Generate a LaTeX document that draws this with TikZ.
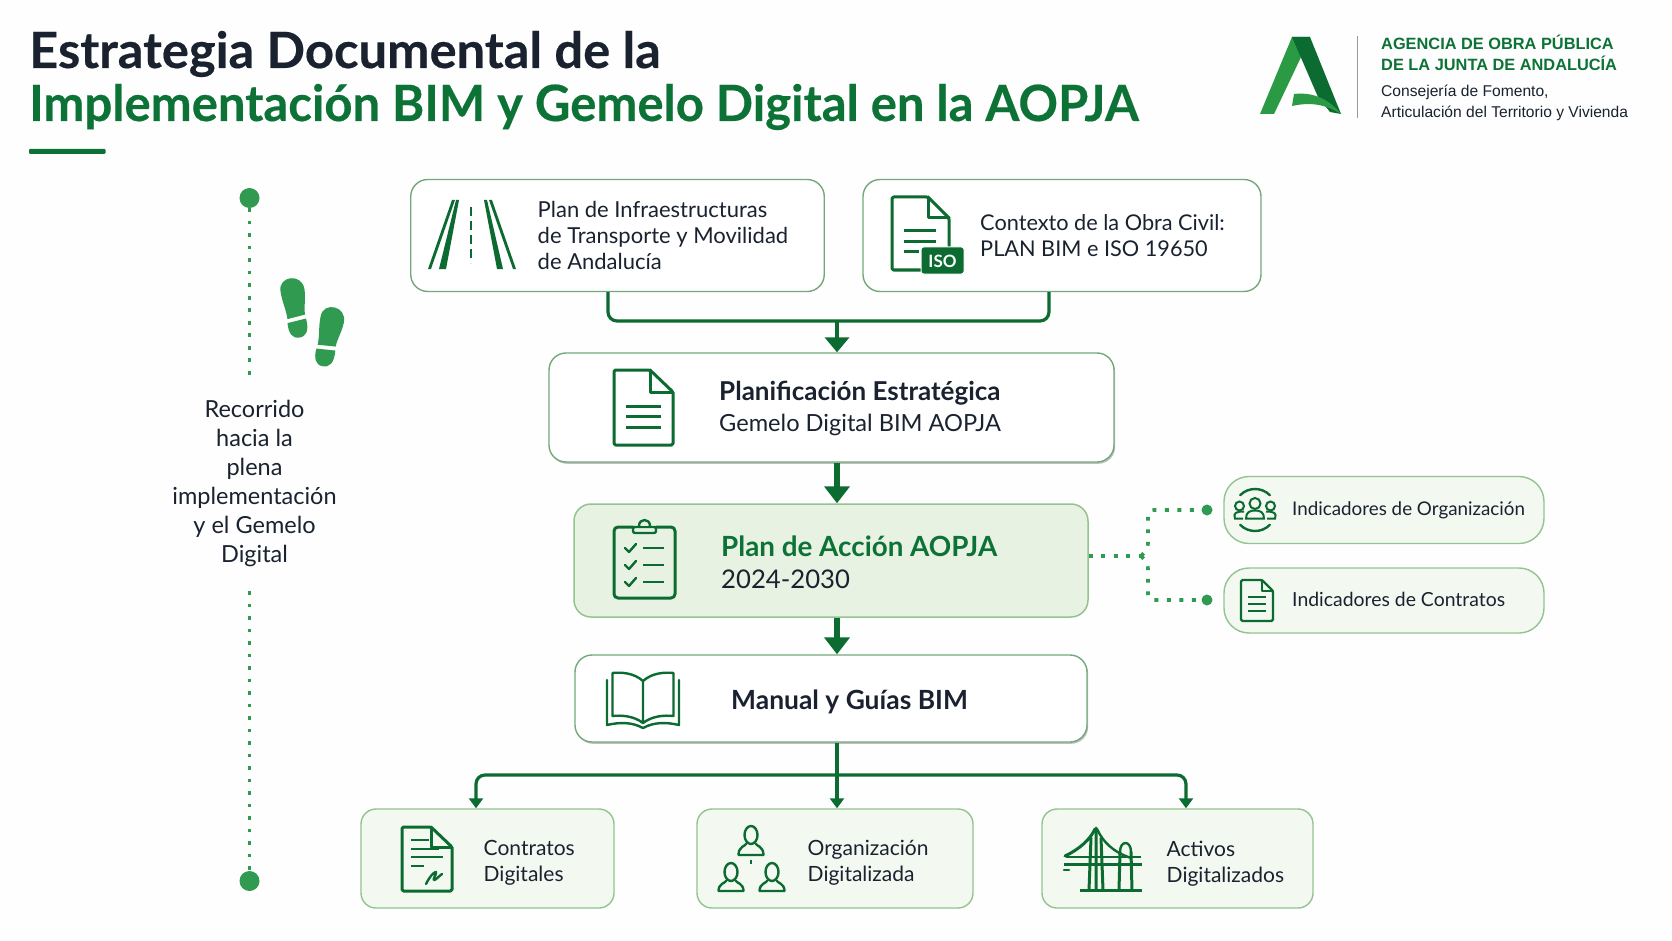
\documentclass[tikz,border=0pt]{standalone}
\usepackage{fontspec}
\usepackage{graphicx}
\setmainfont{Lato}
\newfontfamily\arialf{Liberation Sans}
\newfontfamily\titlef[BoldFeatures={FakeBold=0.35}]{Lato}
\usetikzlibrary{arrows.meta,shadows,calc}
\definecolor{bgc}{HTML}{FDFEFD}
\definecolor{dkg}{HTML}{0B6B30}
\definecolor{tgreen}{HTML}{0C7236}
\definecolor{ink}{HTML}{1A2230}
\definecolor{edgeg}{HTML}{74A87C}
\definecolor{edgel}{HTML}{93C48F}
\definecolor{pale}{HTML}{E8F2E2}
\definecolor{paler}{HTML}{F3F8F1}
\definecolor{dotg}{HTML}{2F9A50}
\definecolor{logol}{HTML}{2A9A45}
\newcommand{\fsz}[2]{\fontsize{#1}{#2}\selectfont}
\tikzset{
 whitebox/.style={draw=edgeg,line width=1.4pt,fill=white,rounded corners=17pt,inner sep=0pt,
   drop shadow={shadow xshift=1.2pt,shadow yshift=-1.8pt,fill=black!55,opacity=.45}},
 topbox/.style={draw=edgeg,line width=1.4pt,fill=white!60!bgc,rounded corners=17pt,inner sep=0pt},
 planbox/.style={draw=edgel,line width=1.5pt,fill=pale,rounded corners=17pt,inner sep=0pt},
 softbox/.style={draw=edgel,line width=1.4pt,fill=paler,rounded corners=15pt,inner sep=0pt},
 indbox/.style={draw=edgel,line width=1.4pt,fill=paler,rounded corners=25pt,inner sep=0pt},
 lab/.style={anchor=west,inner sep=0pt,text=ink,align=left},
 flow/.style={draw=dkg,line width=6pt,-{Triangle[width=25pt,length=17pt]}},
 flowmid/.style={draw=dkg,line width=4pt,-{Triangle[width=24pt,length=15pt]}},
 flowthin/.style={draw=dkg,line width=3.2pt,rounded corners=9pt},
 flowtip/.style={draw=dkg,line width=3.2pt,rounded corners=9pt,-{Triangle[width=14pt,length=10pt]}},
 dotline/.style={draw=dotg,line width=3.6pt,dash pattern=on 3.8pt off 8.7pt},
 bigdot/.style={circle,fill=dotg,draw=none,minimum size=20pt,inner sep=0pt},
 smalldot/.style={circle,fill=dotg,draw=none,minimum size=11pt,inner sep=0pt},
 icon/.style={draw=dkg,line width=3pt,line join=round,line cap=round},
 iconthin/.style={draw=dkg,line width=2.4pt,line join=round,line cap=round},
}
\newcommand{\docicon}[7][icon]{% style, left, top, right, bottom, foldx, foldy
 \draw[#1,rounded corners=1.5pt] (#2,#3) -- (#6,#3) -- (#4,#7) -- (#4,#5) -- (#2,#5) -- cycle;
 \draw[#1] (#6,#3) -- (#6,#7) -- (#4,#7);
}
\newcommand{\footprint}[3]{%
 \begin{scope}[shift={(#1,#2)},rotate=#3]
  \fill[dotg] (-12,-12) .. controls (-12,-27) and (12,-27) .. (12,-10)
     .. controls (12,0) and (9,6) .. (9,15) -- (-9,17) .. controls (-9,6) and (-12,0) .. (-12,-12) -- cycle;
  \fill[dotg] (-9.5,21) -- (9.5,19) .. controls (11,32) and (7,37) .. (0,37) .. controls (-7,37) and (-10,31) .. (-9.5,21) -- cycle;
 \end{scope}}
\newcommand{\person}[4]{% x, head y, body bottom y, half width
 \draw[iconthin] (#1,#2) ellipse ({#4*.52} and {#4*.72});
 \draw[iconthin] (#1-#4,#3) .. controls (#1-#4,#2+#4*.9) and (#1-#4*.4,#2+#4*.85) .. (#1-#4*.4,#2+#4*.72)
   (#1+#4,#3) .. controls (#1+#4,#2+#4*.9) and (#1+#4*.4,#2+#4*.85) .. (#1+#4*.4,#2+#4*.72)
   (#1-#4,#3) -- (#1+#4,#3);
}
\begin{document}
\begin{tikzpicture}[x=1pt,y=-1pt]
\useasboundingbox (0,0) rectangle (1672,941);
\fill[bgc] (0,0) rectangle (1672,941);

% title
\node[anchor=base west,inner sep=0pt,text=ink] (t1) at (29,68)
  {\titlef\fsz{50}{50}\bfseries\scalebox{1.014}[1]{Estrategia Documental de la}};
\node[anchor=base west,inner sep=0pt,text=tgreen] (t2) at (29,121)
  {\titlef\fsz{50}{50}\bfseries\scalebox{.98}[1]{Implementación BIM y Gemelo Digital en la AOPJA}};
\fill[tgreen,rounded corners=1pt] (29,149) rectangle (105.5,154);

% logo
\fill[logol] (1260,114) -- (1292,37) -- (1310,37) -- (1302,55) -- (1274,114) -- cycle;
\fill[dkg] (1292,37) -- (1310,37) -- (1341,114) -- (1330,112) -- (1318,97) -- cycle;
\fill[logol] (1294,94) .. controls (1312,92) and (1328,98) .. (1341,114)
  .. controls (1325,104) and (1310,102) .. (1292,106) -- cycle;
\draw[black!40,line width=1pt] (1357,36) -- (1357,118);
\node[anchor=base west,inner sep=0pt,text=tgreen] (l1) at (1381,50) {\arialf\fsz{16.35}{18}\bfseries AGENCIA DE OBRA PÚBLICA};
\node[anchor=base west,inner sep=0pt,text=tgreen] (l2) at (1381,71) {\arialf\fsz{16.35}{18}\bfseries DE LA JUNTA DE ANDALUCÍA};
\node[anchor=base west,inner sep=0pt,text=ink] (l3) at (1381,97) {\arialf\fsz{15.6}{18}Consejería de Fomento,};
\node[anchor=base west,inner sep=0pt,text=ink] (l4) at (1381,118) {\arialf\fsz{15.6}{18}Articulación del Territorio y Vivienda};

% left track
\node[bigdot] (dtop) at (249.5,198) {};
\node[bigdot] (dbot) at (249.5,881) {};
\coordinate (trA) at (249.5,378);
\coordinate (trB) at (249.5,591);
\draw[dotline] (dtop) -- (trA);
\draw[dotline] (trB) -- (dbot);
\footprint{294}{301}{8}
\footprint{330}{330}{-12}
\node[inner sep=0pt,text=ink,align=center,font=\fsz{23.5}{29}] (lefttxt) at (254.5,483.5)
  {Recorrido\\hacia la\\plena\\implementación\\y el Gemelo\\Digital};

% main boxes
\node[topbox,minimum width=413.5pt,minimum height=112pt] (b1) at (617.5,235.5) {};
\node[topbox,minimum width=398pt,minimum height=112pt] (b2) at (1062,235.5) {};
\node[whitebox,minimum width=565pt,minimum height=109pt] (b3) at (831.5,407.5) {};
\node[planbox,minimum width=514pt,minimum height=113pt] (b4) at (831,560.5) {};
\node[whitebox,minimum width=512pt,minimum height=87pt] (b5) at (831,698.5) {};
\node[indbox,minimum width=320pt,minimum height=67pt] (i1) at (1384,510) {};
\node[indbox,minimum width=320pt,minimum height=65pt] (i2) at (1384,600.5) {};
\node[softbox,minimum width=253pt,minimum height=99pt] (c1) at (487.5,858.5) {};
\node[softbox,minimum width=276pt,minimum height=99pt] (c2) at (835,858.5) {};
\node[softbox,minimum width=271pt,minimum height=99pt] (c3) at (1177.5,858.5) {};

% connectors
\coordinate (spine) at (837,321);
\coordinate (fromA) at (608,321);
\coordinate (fromB) at (1049,321);
\coordinate (busC) at (837,775);
\coordinate (busL) at (476,775);
\coordinate (busR) at (1186,775);
\draw[flowthin] (b1.south -| fromA) |- (spine) -| (b2.south -| fromB);
\draw[flowmid] (spine) -- (b3.north -| spine);
\draw[flow] (b3.south -| spine) -- (b4.north -| spine);
\draw[flow] (b4.south -| spine) -- (b5.north -| spine);
\draw[flowtip] (b5.south -| spine) -- (c2.north -| spine);
\draw[flowtip] (busC) -| (c1.north -| busL);
\draw[flowtip] (busC) -| (c3.north -| busR);

\node[smalldot] (n1) at (1207,510) {};
\node[smalldot] (n2) at (1207,600) {};
\coordinate (fk) at (1141,556);
\draw[dotline] (b4.east |- fk) -- (fk);
\draw[dotline,rounded corners=6pt] (fk) -- ++(7,-7) |- (n1);
\draw[dotline,rounded corners=6pt] (fk) -- ++(7,7) |- (n2);

% texts
\node[lab,font=\fsz{22}{26}] (tb1) at (537.5,235.5) {Plan de Infraestructuras\\de Transporte y Movilidad\\de Andalucía};
\node[lab,font=\fsz{21.7}{26}] (tb2) at (980,236) {Contexto de la Obra Civil:\\PLAN BIM e ISO 19650};
\node[lab,font=\fsz{25}{31}] (tb3) at (719,408.5) {{\bfseries\fsz{26}{31}Planificación Estratégica}\\{\fsz{23.6}{31}Gemelo Digital BIM AOPJA}};
\node[lab,font=\fsz{27.8}{32}] (tb4) at (721,562) {{\bfseries\color{tgreen}Plan de Acción AOPJA}\\{\fsz{25.7}{32}2024-2030}};
\node[lab,font=\fsz{26.4}{30}\bfseries] (tb5) at (731,702) {Manual y Guías BIM};
\node[lab,font=\fsz{18.8}{24}] (ti1) at (1292,510) {Indicadores de Organización};
\node[lab,font=\fsz{19.4}{24}] (ti2) at (1292,599) {Indicadores de Contratos};
\node[lab,font=\fsz{21}{26}] (tc1) at (483.5,862.5) {Contratos\\Digitales};
\node[lab,font=\fsz{21}{26}] (tc2) at (807.5,862.5) {Organización\\Digitalizada};
\node[lab,font=\fsz{21}{26.5}] (tc3) at (1166.5,863.5) {Activos\\Digitalizados};

% road icon
\fill[dkg] (452,200) -- (455,200) -- (431,269) -- (428,269) -- cycle;
\fill[dkg] (456,200) -- (459,200) -- (446,269) -- (439,269) -- cycle;
\fill[dkg] (484,200) -- (487,200) -- (503,269) -- (497,269) -- cycle;
\fill[dkg] (489,200) -- (492,200) -- (516,269) -- (513,269) -- cycle;
\draw[dkg,line width=2.6pt,dash pattern=on 9pt off 5pt] (471,207) -- (471,263);

% ISO doc
\docicon{892}{197}{949}{270}{928}{218}
\draw[icon,line cap=butt] (904,231) -- (936,231) (904,242) -- (936,242) (904,252) -- (919,252);
\fill[dkg,rounded corners=2.5pt,draw=bgc,line width=1pt] (921,247) rectangle (964,274);
\node[inner sep=0pt,text=white] (isot) at (942.5,261) {\fsz{17}{17}\bfseries ISO};

% plan doc
\docicon{614}{370}{673}{445}{650}{392}
\draw[icon,line cap=butt] (626,406) -- (661,406) (626,416) -- (661,416) (626,427) -- (661,427);

% clipboard
\draw[icon,rounded corners=4pt] (633,527) -- (614,527) -- (614,598) -- (675,598) -- (675,527) -- (656,527);
\draw[iconthin,fill=pale,rounded corners=2pt] (633,527) rectangle (656,533);
\draw[iconthin,fill=pale] (639,526) .. controls (639,518) and (650,518) .. (650,526);
\foreach \yy in {548,565,582}{
  \draw[iconthin] (625,\yy) -- (629,\yy+4) -- (636,\yy-4);
  \draw[iconthin,line cap=butt] (643,\yy) -- (664,\yy);
}

% book
\draw[iconthin] (643,681) .. controls (634,673) and (622,672) .. (612.5,673) -- (612.5,716)
   .. controls (622,715) and (634,716) .. (643,723) .. controls (652,716) and (664,715) .. (673.5,716)
   -- (673.5,673) .. controls (664,672) and (652,673) .. (643,681) -- (643,723);
\draw[iconthin] (607,680) -- (607,725) .. controls (620,722) and (632,722) .. (643,728)
   .. controls (654,722) and (666,722) .. (679,725) -- (679,680);

% people ring
\draw[iconthin] (1255,510) ++(225:21) arc[start angle=225,end angle=315,radius=21];
\draw[iconthin] (1255,510) ++(45:21) arc[start angle=45,end angle=135,radius=21];
\draw[dkg,line width=2pt] (1255,503.5) circle (5.5);
\draw[dkg,line width=2pt] (1246,518.5) .. controls (1246,512) and (1250,510.5) .. (1255,510.5)
   .. controls (1260,510.5) and (1264,512) .. (1264,518.5) -- cycle;
\draw[dkg,line width=2pt] (1239.5,506) circle (4.5);
\draw[dkg,line width=2pt] (1243,518.5) -- (1235,518.5) .. controls (1233,513) and (1236,511.5) .. (1244,511.5);
\draw[dkg,line width=2pt] (1270.5,506) circle (4.5);
\draw[dkg,line width=2pt] (1267,518.5) -- (1275,518.5) .. controls (1277,513) and (1274,511.5) .. (1266,511.5);

% indicator doc
\docicon[iconthin]{1241}{580}{1273}{621}{1262}{591}
\draw[iconthin,line cap=butt] (1248,597) -- (1266,597) (1248,604) -- (1266,604) (1248,611) -- (1266,611);

% contract doc
\docicon{402}{827}{452}{891}{431}{847}
\draw[iconthin,line cap=butt] (411,840) -- (429,840) (411,849) -- (439,849) (411,857) -- (443,857) (411,866) -- (424,866);
\draw[iconthin] (426,884) .. controls (430,876) and (434,872) .. (436,872) .. controls (437,874) and (432,880) .. (434,880) .. controls (436,880) and (439,876) .. (442,874);

% org people
\person{751}{835}{855}{12.5}
\person{731}{872}{891}{12.5}
\person{772}{872}{891}{12.5}
\draw[dkg,line width=1.5pt] (751,860) -- (751,864);

% bridge
\draw[icon] (1096,828) -- (1096,890) (1091,838) -- (1089,890) (1101,838) -- (1103,890);
\draw[icon] (1120,852) -- (1119,890) (1131,852) -- (1132,890);
\draw[iconthin] (1120,852) .. controls (1120,840) and (1131,840) .. (1131,852);
\draw[icon] (1065,856) .. controls (1078,850) and (1090,840) .. (1095,829);
\draw[iconthin] (1097,829) .. controls (1103,842) and (1113,852) .. (1131,858);
\draw[icon,line cap=butt] (1064,864) -- (1142,864);
\draw[iconthin,line cap=butt] (1066,857) -- (1141,857);
\draw[icon,line cap=butt] (1080,890) -- (1142,890);
\draw[iconthin] (1064,870) -- (1069,870);
\end{tikzpicture}
\end{document}
